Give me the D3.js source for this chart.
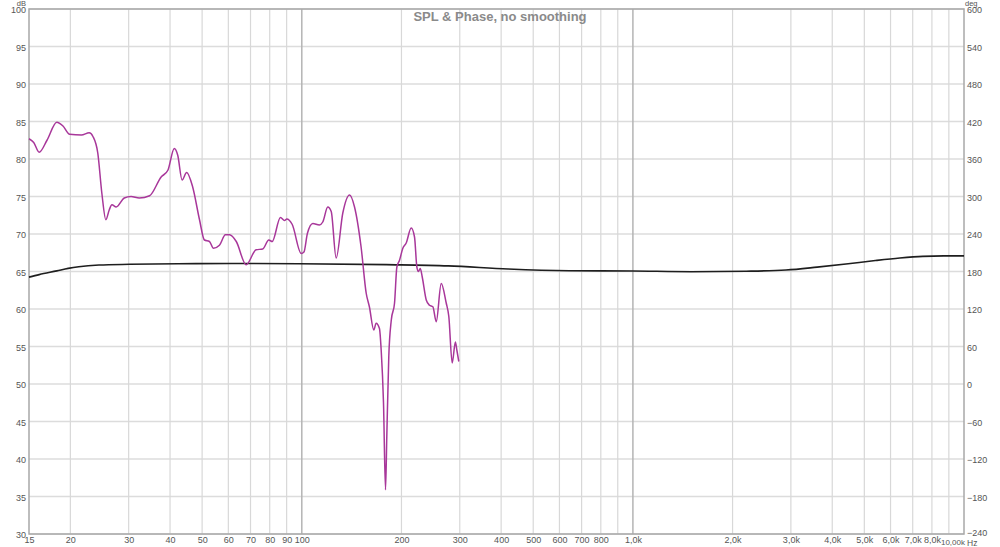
<!DOCTYPE html>
<html><head><meta charset="utf-8">
<script src="https://cdn.jsdelivr.net/npm/d3@7"></script>
<style>
html,body{margin:0;padding:0;background:#fff;}
svg{display:block;font-family:"Liberation Sans",Arial,sans-serif;}
</style></head>
<body><svg id="c" width="1000" height="547"></svg>
<script>
// ---- data ----
const splFreq = [15,15.5,16.1,17.0,18.2,19.0,19.9,21.6,22.8,23.4,24.2,24.9,25.6,26.2,26.7,27.5,29.1,30.5,32.3,34.7,37.6,39.4,41.2,42.2,43.5,44.9,46.8,49.1,50.8,52.6,54.1,56.4,58.8,60.5,63.4,67.9,72.8,76.2,79.5,81.4,86.2,88.7,90.1,93.5,99.6,101.5,104,108,113,115.7,119.8,122.7,127,133,139.4,144.3,151,156.5,160,165,167.7,171.6,173.7,176.5,179,180.6,183.1,186.3,190.6,193.7,197.3,201.9,206.7,214,219,222.6,225,227.9,231,237.6,243,248.8,254.7,263.7,273,278,284.6,291,294,298];
const splDb   = [82.7,82.2,80.9,82.5,84.9,84.4,83.3,83.2,83.5,83.0,80.8,75.4,71.9,73.2,73.9,73.6,74.8,75.0,74.8,75.1,77.6,78.5,81.4,80.5,77.2,78.2,76.3,71.9,69.2,69.0,68.1,68.5,69.9,69.9,69.0,65.9,67.9,68.0,69.2,69.0,72.2,71.8,72.0,71.3,67.4,67.6,70.1,71.4,71.2,71.6,73.6,73.0,66.8,72.8,75.2,73.6,68.3,62.1,60.3,57.2,58.1,57.4,54.5,47.5,35.9,43.0,53.6,58.5,60.8,65.6,66.5,68.1,68.8,70.8,69.6,65.6,65.0,65.4,64.3,61.2,60.5,60.3,58.3,63.4,60.8,59.0,52.8,55.6,54.5,53.0];
const phaseFreq = [15,16.1,18.2,19.7,21.2,24.4,30.2,42.3,61.3,98,180,277,420,641,1000,1500,2200,2900,3600,4400,5400,6400,7500,8700,10000];
const phaseDeg  = [171,175,181,185,187.7,190.4,191.5,192.3,192.8,192.5,191,189,184,181.3,180.8,179.7,180.5,182.4,187,192,197.5,201.5,204.2,205,205];
const dbTicks = [30,35,40,45,50,55,60,65,70,75,80,85,90,95,100];
const degTicks = [-240,-180,-120,-60,0,60,120,180,240,300,360,420,480,540,600];
const freqTickVals = [15,20,30,40,50,60,70,80,90,100,200,300,400,500,600,700,800,1000,2000,3000,4000,5000,6000,7000,8000];
const freqTickLabels = ["15","20","30","40","50","60","70","80","90","100","200","300","400","500","600","700","800","1,0k","2,0k","3,0k","4,0k","5,0k","6,0k","7,0k","8,0k"];
const gridFreqs = [20,30,40,50,60,70,80,90,100,200,300,400,500,600,700,800,900,1000,2000,3000,4000,5000,6000,7000,8000,9000];
const title = "SPL & Phase, no smoothing";

// ---- layout ----
const L = 29, R = 964, T = 9, B = 534;
const svg = d3.select("#c");
const x = d3.scaleLog().domain([15, 10000]).range([L, R]);
const y = d3.scaleLinear().domain([30, 100]).range([B, T]);
const y2 = d3.scaleLinear().domain([-240, 600]).range([B, T]);

// grid
const g = svg.append("g");
g.selectAll("line.h").data(dbTicks).join("line")
  .attr("x1", L).attr("x2", R).attr("y1", d => y(d)).attr("y2", d => y(d))
  .attr("stroke", "#dcdcdc").attr("stroke-width", 1.3);
g.selectAll("line.v").data(gridFreqs).join("line")
  .attr("x1", d => x(d)).attr("x2", d => x(d)).attr("y1", T).attr("y2", B)
  .attr("stroke", d => (d === 100 || d === 1000) ? "#b4b4b4" : "#d8d8d8")
  .attr("stroke-width", d => (d === 100 || d === 1000) ? 1.5 : 1.2);

// frame
svg.append("rect").attr("x", L).attr("y", T).attr("width", R - L).attr("height", B - T)
  .attr("fill", "none").attr("stroke", "#a8a8a8").attr("stroke-width", 1.5);

// axes
const fs = "9px", tc = "#555";
const ax = svg.append("g").attr("transform", `translate(0,${B})`)
  .call(d3.axisBottom(x).tickValues(freqTickVals).tickFormat((d, i) => freqTickLabels[i]).tickSize(0).tickPadding(3));
const ayl = svg.append("g").attr("transform", `translate(${L},0)`)
  .call(d3.axisLeft(y).tickValues(dbTicks).tickFormat(d3.format("d")).tickSize(0).tickPadding(3));
const ayr = svg.append("g").attr("transform", `translate(${R},0)`)
  .call(d3.axisRight(y2).tickValues(degTicks).tickFormat(d3.format("d")).tickSize(0).tickPadding(3));
[ax, ayl, ayr].forEach(a => {
  a.select(".domain").remove();
  a.selectAll("text").attr("font-size", fs).attr("fill", tc).attr("font-family", "'Liberation Sans',Arial,sans-serif");
});
ayl.selectAll("text").attr("dy", "0.42em");
ayr.selectAll("text").attr("dy", d => d === -240 ? "0.2em" : "0.42em");
svg.append("text").attr("x", R + 1).attr("y", B + 10.5).attr("text-anchor", "end")
  .attr("font-size", "8px").attr("fill", tc).text("10,00k");
svg.append("text").attr("x", R + 3).attr("y", B + 11.5)
  .attr("font-size", "8.5px").attr("fill", tc).text("Hz");
svg.append("text").attr("x", L - 3).attr("y", 6).attr("text-anchor", "end")
  .attr("font-size", "7.5px").attr("fill", tc).text("dB");
svg.append("text").attr("x", R + 1).attr("y", 6)
  .attr("font-size", "7.5px").attr("fill", tc).text("deg");

// title
svg.append("text").attr("x", 500).attr("y", 21).attr("text-anchor", "middle")
  .attr("font-size", "13px").attr("font-weight", "bold").attr("fill", "#8a8a8a").text(title);

// curves
const phaseLine = d3.line().x((d, i) => x(phaseFreq[i])).y(d => y2(d)).curve(d3.curveMonotoneX);
svg.append("path").attr("d", phaseLine(phaseDeg)).attr("fill", "none")
  .attr("stroke", "#1e1e1e").attr("stroke-width", 1.6);
const splLine = d3.line().x((d, i) => x(splFreq[i])).y(d => y(d)).curve(d3.curveMonotoneX);
svg.append("path").attr("d", splLine(splDb)).attr("fill", "none")
  .attr("stroke", "#a8379a").attr("stroke-width", 1.5);
</script></body></html>
